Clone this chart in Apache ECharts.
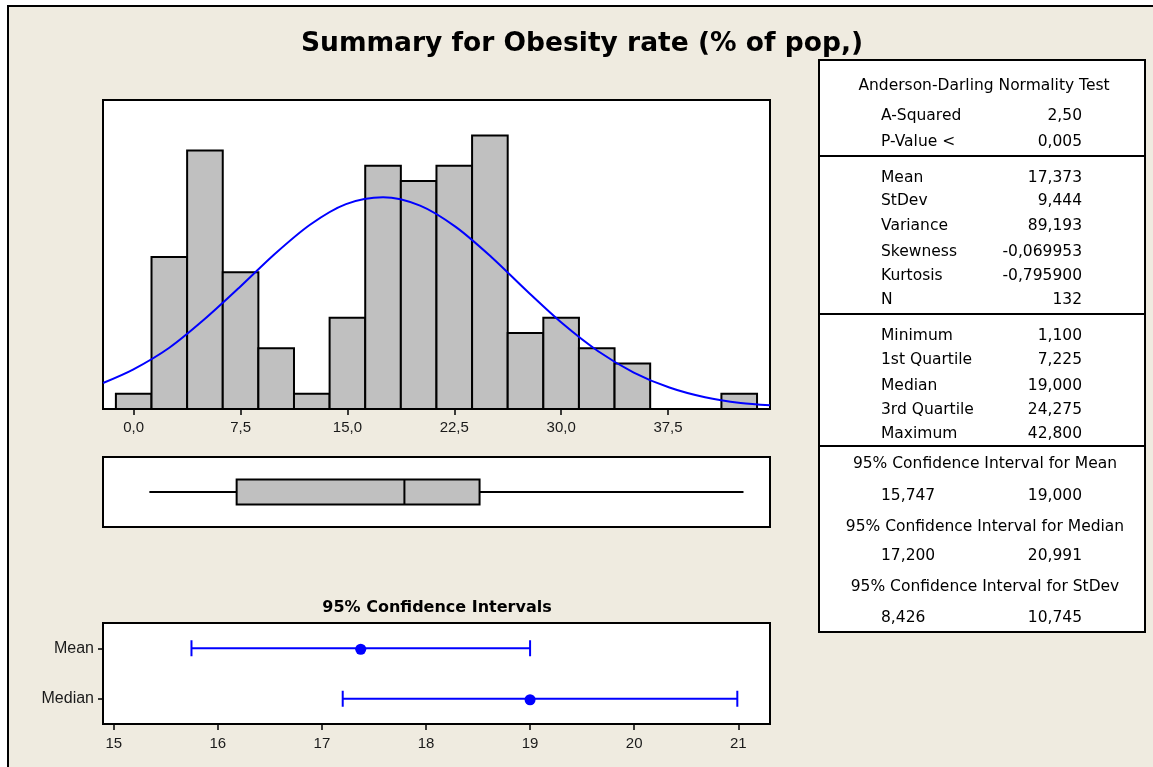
<!DOCTYPE html>
<html>
<head>
<meta charset="utf-8">
<title>Summary for Obesity rate</title>
<script src="https://cdn.jsdelivr.net/npm/echarts@6.0.0/dist/echarts.min.js"></script>
<style>
  html, body { margin: 0; padding: 0; background: #fff; }
  #main { width: 1153px; height: 767px; }
</style>
</head>
<body>
<div id="main"></div>
<script>
// histogram (bins of width 2.5, centred on the values below)
var binCenters = [0, 2.5, 5, 7.5, 10, 12.5, 15, 17.5, 20, 22.5, 25, 27.5, 30, 32.5, 35, 37.5, 40, 42.5];
var binCounts = [1, 10, 17, 9, 4, 1, 6, 16, 15, 16, 18, 5, 6, 4, 3, 0, 0, 1];
var binWidth = 2.5;
var histTicks = [0, 7.5, 15, 22.5, 30, 37.5];

// fitted normal curve
var curveX = [-2.15, -0.05, 2.5, 4.9, 7.4, 9.9, 12.4, 14.9, 17.5, 20.1, 22.6, 25.1, 27.6, 30.1, 32.6, 35.1, 37.6, 40.1, 42.6, 44.66];
var curveY = [1.71, 2.59, 4.03, 5.85, 7.98, 10.2, 12.14, 13.48, 13.93, 13.38, 11.98, 10.0, 7.76, 5.62, 3.8, 2.4, 1.41, 0.77, 0.39, 0.24];

// boxplot: min, q1, median, q3, max
var boxStats = [1.1, 7.225, 19.0, 24.275, 42.8];

// 95% confidence intervals
var ciNames = ['Mean', 'Median'];
var ciLow = [15.747, 17.2];
var ciHigh = [19.0, 20.991];
var ciEst = [17.373, 19.0];
var ciTicks = [15, 16, 17, 18, 19, 20, 21];

// summary table
var statLabels = ['A-Squared', 'P-Value <', 'Mean', 'StDev', 'Variance', 'Skewness', 'Kurtosis', 'N',
  'Minimum', '1st Quartile', 'Median', '3rd Quartile', 'Maximum'];
var statValues = ['2,50', '0,005', '17,373', '9,444', '89,193', '-0,069953', '-0,795900', '132',
  '1,100', '7,225', '19,000', '24,275', '42,800'];
var ciHeads = ['95% Confidence Interval for Mean', '95% Confidence Interval for Median', '95% Confidence Interval for StDev'];
var ciLowText = ['15,747', '17,200', '8,426'];
var ciHighText = ['19,000', '20,991', '10,745'];

// layout
var statRowY = [116, 142, 178, 201, 226, 252, 276, 300, 336, 360, 386, 410, 434];
var ciHeadY = [464, 527, 587];
var ciValY = [496, 556, 618];
var TXT = '"DejaVu Sans", "Liberation Sans", sans-serif';
var NARROW = '"Liberation Sans Narrow", "Liberation Sans", sans-serif';
var BLUE = '#0000FF';

function comma(v) { return v.toFixed(1).replace('.', ','); }

var chart = echarts.init(document.getElementById('main'));

var graphics = [
  { type: 'rect', shape: { x: 0, y: 0, width: 1153, height: 5 }, style: { fill: '#fff' }, silent: true },
  { type: 'rect', shape: { x: 0, y: 0, width: 7, height: 767 }, style: { fill: '#fff' }, silent: true },
  { type: 'line', shape: { x1: 7, y1: 6, x2: 1153, y2: 6 }, style: { stroke: '#000', lineWidth: 2 } },
  { type: 'line', shape: { x1: 8, y1: 5, x2: 8, y2: 767 }, style: { stroke: '#000', lineWidth: 2 } },
  { type: 'text', x: 582, y: 44, style: { text: 'Summary for Obesity rate (% of pop,)', font: 'bold 26.5px ' + TXT,
      fill: '#000', align: 'center', verticalAlign: 'middle' } },
  { type: 'text', x: 437, y: 608, style: { text: '95% Confidence Intervals', font: 'bold 16px ' + TXT,
      fill: '#000', align: 'center', verticalAlign: 'middle' } },
  { type: 'rect', shape: { x: 819, y: 60, width: 326, height: 572 }, style: { fill: '#fff', stroke: '#000', lineWidth: 2 } },
  { type: 'line', shape: { x1: 819, y1: 156, x2: 1145, y2: 156 }, style: { stroke: '#000', lineWidth: 2 } },
  { type: 'line', shape: { x1: 819, y1: 314, x2: 1145, y2: 314 }, style: { stroke: '#000', lineWidth: 2 } },
  { type: 'line', shape: { x1: 819, y1: 446, x2: 1145, y2: 446 }, style: { stroke: '#000', lineWidth: 2 } },
  { type: 'text', x: 984, y: 86, style: { text: 'Anderson-Darling Normality Test', font: '15.5px ' + TXT,
      fill: '#000', align: 'center', verticalAlign: 'middle' } }
];
statLabels.forEach(function (lab, i) {
  graphics.push({ type: 'text', x: 881, y: statRowY[i], style: { text: lab, font: '15.5px ' + TXT, fill: '#000', align: 'left', verticalAlign: 'middle' } });
  graphics.push({ type: 'text', x: 1082, y: statRowY[i], style: { text: statValues[i], font: '15.5px ' + TXT, fill: '#000', align: 'right', verticalAlign: 'middle' } });
});
ciHeads.forEach(function (h, i) {
  graphics.push({ type: 'text', x: 985, y: ciHeadY[i], style: { text: h, font: '15.5px ' + TXT, fill: '#000', align: 'center', verticalAlign: 'middle' } });
  graphics.push({ type: 'text', x: 881, y: ciValY[i], style: { text: ciLowText[i], font: '15.5px ' + TXT, fill: '#000', align: 'left', verticalAlign: 'middle' } });
  graphics.push({ type: 'text', x: 1082, y: ciValY[i], style: { text: ciHighText[i], font: '15.5px ' + TXT, fill: '#000', align: 'right', verticalAlign: 'middle' } });
});

var gridBase = { show: true, backgroundColor: '#fff', borderColor: '#000', borderWidth: 2, containLabel: false };

var option = {
  backgroundColor: '#EFEBE0',
  animation: false,
  graphic: graphics,
  grid: [
    Object.assign({ left: 103, top: 100, width: 667, height: 309 }, gridBase),
    Object.assign({ left: 103, top: 457, width: 667, height: 70 }, gridBase),
    Object.assign({ left: 103, top: 623, width: 667, height: 101 }, gridBase)
  ],
  xAxis: [
    {
      type: 'value', gridIndex: 0, min: -2.155, max: 44.66,
      axisLine: { show: false },
      axisTick: { show: true, customValues: histTicks, length: 6, lineStyle: { color: '#000', width: 1.5 } },
      axisLabel: { customValues: histTicks, formatter: comma, margin: 11, color: '#1a1a1a',
        fontSize: 15, fontFamily: '"Liberation Sans", sans-serif' },
      splitLine: { show: false }
    },
    {
      type: 'value', gridIndex: 1, min: -2.155, max: 44.66,
      axisLine: { show: false }, axisTick: { show: false }, axisLabel: { show: false }, splitLine: { show: false }
    },
    {
      type: 'value', gridIndex: 2, min: 14.897, max: 21.305,
      axisLine: { show: false },
      axisTick: { show: true, customValues: ciTicks, length: 6, lineStyle: { color: '#000', width: 1.5 } },
      axisLabel: { customValues: ciTicks, margin: 12, color: '#1a1a1a', fontSize: 15, fontFamily: NARROW },
      splitLine: { show: false }
    }
  ],
  yAxis: [
    { type: 'value', gridIndex: 0, min: 0, max: 20.33, show: false },
    { type: 'value', gridIndex: 1, min: 0, max: 1, show: false },
    {
      type: 'category', gridIndex: 2, data: ciNames, inverse: true,
      axisLine: { show: false },
      axisTick: { show: true, alignWithLabel: true, length: 5, lineStyle: { color: '#000', width: 1.5 } },
      axisLabel: { margin: 9, color: '#1a1a1a', fontSize: 16, fontFamily: NARROW },
      splitLine: { show: false }
    }
  ],
  series: [
    {
      type: 'custom', xAxisIndex: 0, yAxisIndex: 0,
      data: binCenters.map(function (c, i) { return [c, binCounts[i]]; }),
      encode: { x: 0, y: 1 },
      renderItem: function (params, api) {
        var c = api.value(0), n = api.value(1);
        if (!n) return null;
        var p0 = api.coord([c - binWidth / 2, 0]);
        var p1 = api.coord([c + binWidth / 2, n]);
        return {
          type: 'rect',
          shape: { x: p0[0], y: p1[1], width: p1[0] - p0[0], height: p0[1] - p1[1] },
          style: { fill: '#C0C0C0', stroke: '#000', lineWidth: 2 }
        };
      }
    },
    {
      type: 'line', xAxisIndex: 0, yAxisIndex: 0,
      data: curveX.map(function (x, i) { return [x, curveY[i]]; }),
      smooth: 0.3, showSymbol: false, z: 5,
      lineStyle: { color: BLUE, width: 2 }
    },
    {
      type: 'custom', xAxisIndex: 1, yAxisIndex: 1,
      data: [boxStats],
      encode: { x: [0, 1, 2, 3, 4] },
      renderItem: function (params, api) {
        var y = api.coord([0, 0.5])[1];
        var x = [0, 1, 2, 3, 4].map(function (k) { return api.coord([api.value(k), 0.5])[0]; });
        var h = 12.5;
        return {
          type: 'group',
          children: [
            { type: 'line', shape: { x1: x[0], y1: y, x2: x[1], y2: y }, style: { stroke: '#000', lineWidth: 2 } },
            { type: 'line', shape: { x1: x[3], y1: y, x2: x[4], y2: y }, style: { stroke: '#000', lineWidth: 2 } },
            { type: 'rect', shape: { x: x[1], y: y - h, width: x[3] - x[1], height: 2 * h }, style: { fill: '#C0C0C0', stroke: '#000', lineWidth: 2 } },
            { type: 'line', shape: { x1: x[2], y1: y - h, x2: x[2], y2: y + h }, style: { stroke: '#000', lineWidth: 2 } }
          ]
        };
      }
    },
    {
      type: 'custom', xAxisIndex: 2, yAxisIndex: 2,
      data: ciNames.map(function (n, i) { return [i, ciLow[i], ciHigh[i], ciEst[i]]; }),
      encode: { x: [1, 2, 3], y: 0 },
      renderItem: function (params, api) {
        var cat = api.value(0);
        var lo = api.coord([api.value(1), cat]);
        var hi = api.coord([api.value(2), cat]);
        var est = api.coord([api.value(3), cat]);
        var y = lo[1], cap = 8;
        var st = { stroke: BLUE, lineWidth: 2 };
        return {
          type: 'group',
          children: [
            { type: 'line', shape: { x1: lo[0], y1: y, x2: hi[0], y2: y }, style: st },
            { type: 'line', shape: { x1: lo[0], y1: y - cap, x2: lo[0], y2: y + cap }, style: st },
            { type: 'line', shape: { x1: hi[0], y1: y - cap, x2: hi[0], y2: y + cap }, style: st },
            { type: 'circle', shape: { cx: est[0], cy: y + 1, r: 5.5 }, style: { fill: BLUE } }
          ]
        };
      }
    }
  ]
};

chart.setOption(option);
</script>
</body>
</html>
